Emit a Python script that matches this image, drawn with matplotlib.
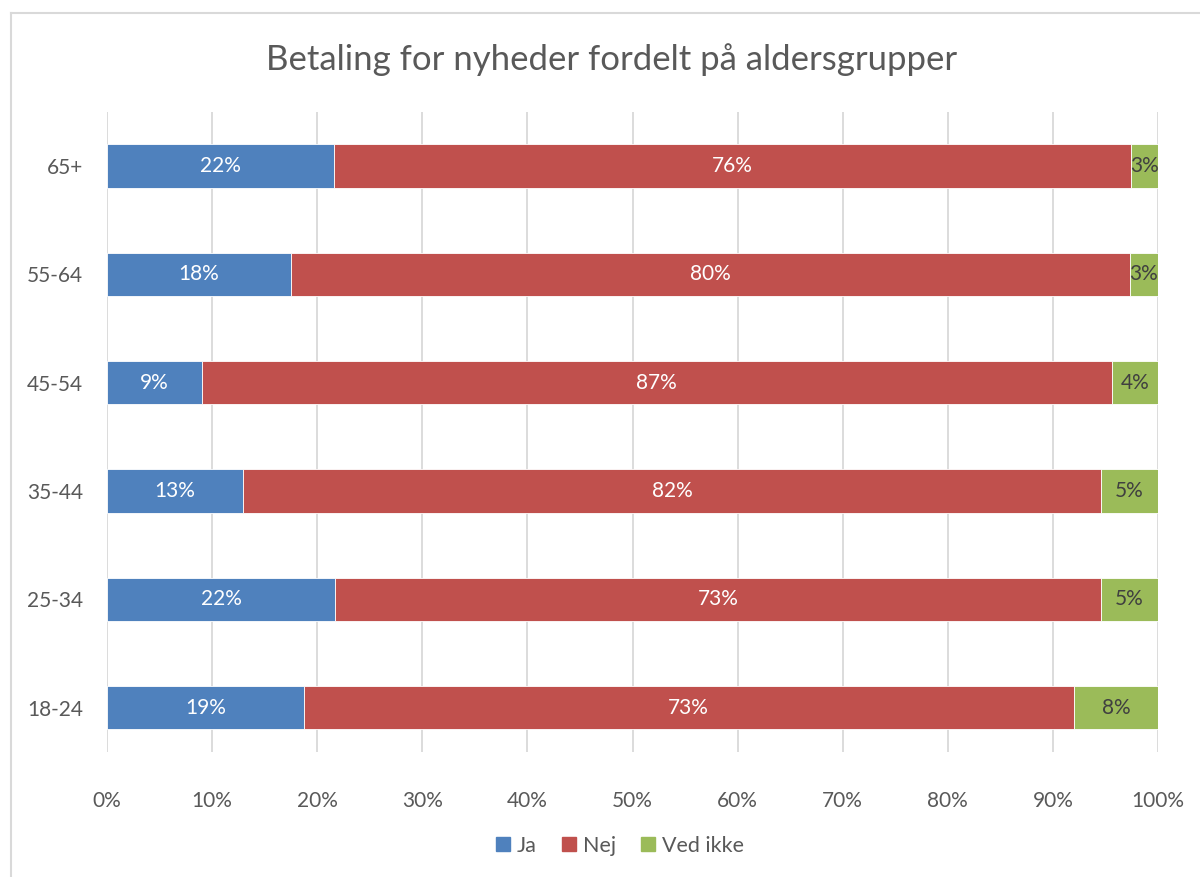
import matplotlib
matplotlib.use('Agg')
import matplotlib.pyplot as plt
from matplotlib.lines import Line2D
import numpy as np

plt.rcParams['font.family'] = ['Lato', 'DejaVu Sans']

groups = ['18-24', '25-34', '35-44', '45-54', '55-64', '65+']
ja = [18.7, 21.7, 12.9, 9.0, 17.5, 21.6]
nej = [73.3, 72.9, 81.7, 86.6, 79.8, 75.8]
ved_ikke = [8.0, 5.4, 5.4, 4.4, 2.7, 2.6]
series = ['Ja', 'Nej', 'Ved ikke']
colors = ['#4F81BD', '#C0504D', '#9BBB59']
label_colors = ['white', 'white', '#404040']
xticks = [0, 10, 20, 30, 40, 50, 60, 70, 80, 90, 100]

fig = plt.figure(figsize=(12, 8.77), dpi=100)
ax = fig.add_axes([107/1200, 1 - 752/877, (1158-107)/1200, (752-112)/877])

y = np.arange(len(groups))
left = np.zeros(len(groups))
for vals, name, c, lc in zip([ja, nej, ved_ikke], series, colors, label_colors):
    vals = np.array(vals)
    ax.barh(y, vals, left=left, height=0.4, color=c, label=name, zorder=3,
            edgecolor='white', linewidth=0.6)
    for xi, yi, v in zip(left, y, vals):
        ax.text(xi + v / 2, yi, f'{round(v):.0f}%', ha='center', va='center',
                color=lc, fontsize=15, zorder=4)
    left += vals

ax.set_xlim(0, 100)
ax.set_ylim(-0.41, 5.5)
ax.set_xticks(xticks)
ax.set_xticklabels([f'{t}%' for t in xticks], fontsize=15, color='#595959')
ax.set_yticks(y)
ax.set_yticklabels(groups, fontsize=15, color='#595959')
ax.tick_params(axis='both', length=0)
ax.tick_params(axis='x', pad=28)
ax.tick_params(axis='y', pad=17)
ax.grid(axis='x', color='#D9D9D9', linewidth=1.3, zorder=0)
for s in ax.spines.values():
    s.set_visible(False)

fig.text(612/1200, 1 - 60/877, 'Betaling for nyheder fordelt på aldersgrupper',
         ha='center', va='center', fontsize=25, color='#595959')

handles = [Line2D([0], [0], marker='s', linestyle='', markersize=10.5,
                  markerfacecolor=c, markeredgecolor=c) for c in colors]
fig.legend(handles, series, loc='center', bbox_to_anchor=(617/1200, 1 - 846/877),
           ncol=3, frameon=False, fontsize=15.5, handletextpad=0.05, columnspacing=0.9,
           handlelength=1.2, labelcolor='#595959')

# outer chart frame
fig.add_artist(Line2D([11/1200, 11/1200], [0, 1 - 13/877], transform=fig.transFigure,
                      color='#D9D9D9', linewidth=1.5))
fig.add_artist(Line2D([11/1200, 1], [1 - 13/877, 1 - 13/877], transform=fig.transFigure,
                      color='#D9D9D9', linewidth=1.5))

fig.savefig('out.png', dpi=100, facecolor='white')
